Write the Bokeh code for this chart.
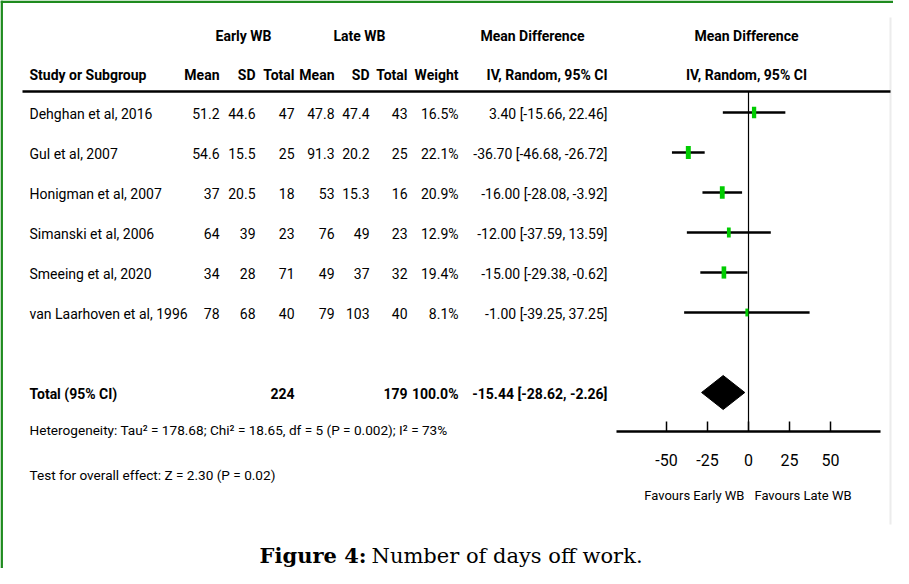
import math
from bokeh.plotting import figure
from bokeh.models import Range1d, ColumnDataSource
from bokeh.core.properties import value
from bokeh.embed import file_html
from bokeh.resources import INLINE

# ---------------- data ----------------
studies = ["Dehghan et al, 2016", "Gul et al, 2007", "Honigman et al, 2007",
           "Simanski et al, 2006", "Smeeing et al, 2020", "van Laarhoven et al, 1996"]
early_mean = [51.2, 54.6, 37, 64, 34, 78]
early_sd = [44.6, 15.5, 20.5, 39, 28, 68]
early_n = [47, 25, 18, 23, 71, 40]
late_mean = [47.8, 91.3, 53, 76, 49, 79]
late_sd = [47.4, 20.2, 15.3, 49, 37, 103]
late_n = [43, 25, 16, 23, 32, 40]
weight = [16.5, 22.1, 20.9, 12.9, 19.4, 8.1]
md = [3.40, -36.70, -16.00, -12.00, -15.00, -1.00]
ci_lo = [-15.66, -46.68, -28.08, -37.59, -29.38, -39.25]
ci_hi = [22.46, -26.72, -3.92, 13.59, -0.62, 37.25]

total_early_n = 224
total_late_n = 179
total_weight = 100.0
total_md = -15.44
total_lo = -28.62
total_hi = -2.26

heterogeneity = "Heterogeneity: Tau\u00b2 = 178.68; Chi\u00b2 = 18.65, df = 5 (P = 0.002); I\u00b2 = 73%"
overall = "Test for overall effect: Z = 2.30 (P = 0.02)"
axis_ticks = [-50, -25, 0, 25, 50]
axis_limits = [-80.5, 80.5]
favours_left = "Favours Early WB"
favours_right = "Favours Late WB"
caption_bold = "Figure 4:"
caption_rest = "Number of days off work."

# ---------------- layout ----------------
W, H = 893, 568
FONT = "Roboto"
SERIF = "DejaVu Serif"

p = figure(width=W, height=H, x_range=Range1d(0, W), y_range=Range1d(H, 0),
           output_backend="svg", toolbar_location=None,
           x_axis_location=None, y_axis_location=None, min_border=0,
           outline_line_color=None)
p.grid.grid_line_color = None
p.background_fill_color = "white"
p.border_fill_color = "white"
p.extra_x_ranges = {"md": Range1d(-456.1, 88.41)}


def txt(xs, ys, ss, size=14, align="left", bold=False, rng="default", font=FONT):
    src = ColumnDataSource(dict(x=list(xs), y=list(ys), t=list(ss)))
    p.text(x="x", y="y", text="t", source=src, text_font=value(font),
           text_font_size=f"{size}px", text_align=align, text_baseline="middle",
           text_font_style="bold" if bold else "normal", text_color="black",
           x_range_name=rng)


def g(v):
    return f"{v:g}"


# green frame
GREEN = "#1f8b1f"
p.segment(x0=[0], x1=[W], y0=[1.2], y1=[1.2], line_color=GREEN, line_width=2.5)
p.segment(x0=[1.2], x1=[1.2], y0=[0], y1=[H], line_color=GREEN, line_width=2.5)
# faint right edge of the pasted image
p.segment(x0=[890], x1=[890], y0=[17], y1=[524], line_color="#ececec", line_width=2)

# headers
HY1, HY2 = 35, 74
txt([243, 359, 532], [HY1] * 3, ["Early WB", "Late WB", "Mean Difference"], align="center", bold=True)
txt([746], [HY1], ["Mean Difference"], align="center", bold=True)
txt([29], [HY2], ["Study or Subgroup"], bold=True)
col_x = [219, 255, 294, 334, 369, 407, 458, 607]
txt(col_x, [HY2] * 8, ["Mean", "SD", "Total", "Mean", "SD", "Total", "Weight", "IV, Random, 95% CI"],
    align="right", bold=True)
txt([746], [HY2], ["IV, Random, 95% CI"], align="center", bold=True)
p.segment(x0=[22], x1=[890], y0=[91], y1=[91], line_color="black", line_width=2.5)

# study rows
row_y = [112 + 40 * i for i in range(len(studies))]
ty = [y + 1 for y in row_y]
txt([29] * len(studies), ty, studies)
cols = [
    [g(v) for v in early_mean], [g(v) for v in early_sd], [g(v) for v in early_n],
    [g(v) for v in late_mean], [g(v) for v in late_sd], [g(v) for v in late_n],
    [f"{w:.1f}%" for w in weight],
    [f"{m:.2f} [{a:.2f}, {b:.2f}]" for m, a, b in zip(md, ci_lo, ci_hi)],
]
for cx, vals in zip(col_x, cols):
    txt([cx] * len(vals), ty, vals, align="right")

# total row
tot_y = 112 + 40 * 7
txt([29], [tot_y + 1], ["Total (95% CI)"], bold=True)
txt([col_x[2], col_x[5], col_x[6], col_x[7]], [tot_y + 1] * 4,
    [g(total_early_n), g(total_late_n), f"{total_weight:.1f}%",
     f"{total_md:.2f} [{total_lo:.2f}, {total_hi:.2f}]"], align="right", bold=True)

txt([29], [429], [heterogeneity], size=13.6)
txt([29], [474], [overall], size=13.6)

# forest plot
p.segment(x0=[0], x1=[0], y0=[91], y1=[431], x_range_name="md", line_color="black", line_width=1.2)
p.segment(x0=ci_lo, x1=ci_hi, y0=row_y, y1=row_y, x_range_name="md", line_color="black", line_width=2.5)
hs = [2.77 * math.sqrt(w) for w in weight]
ws = [0.38 * h for h in hs]
p.rect(x=md, y=row_y, width=ws, height=hs, width_units="screen", height_units="screen",
       fill_color="#00cc00", line_color=None, x_range_name="md")
DH = 17
p.patches(xs=[[total_lo, total_md, total_hi, total_md]],
          ys=[[tot_y, tot_y - DH, tot_y, tot_y + DH]],
          fill_color="black", line_color="black", x_range_name="md")

# axis
AY = 431
p.segment(x0=[axis_limits[0]], x1=[axis_limits[1]], y0=[AY], y1=[AY], x_range_name="md",
          line_color="black", line_width=2.5)
p.segment(x0=axis_ticks, x1=axis_ticks, y0=[AY - 10] * len(axis_ticks), y1=[AY] * len(axis_ticks),
          x_range_name="md", line_color="black", line_width=1.5)
txt(axis_ticks, [459] * len(axis_ticks), [g(t) for t in axis_ticks], size=16, align="center", rng="md")
txt([-2.5], [495], [favours_left], size=13, align="right", rng="md")
txt([3.6], [495], [favours_right], size=13, align="left", rng="md")

# caption
txt([366], [555], [caption_bold], size=21, align="right", bold=True, font=SERIF)
txt([371], [555], [caption_rest], size=21, align="left", font=SERIF)

open("out.html", "w").write(file_html(p, INLINE))
